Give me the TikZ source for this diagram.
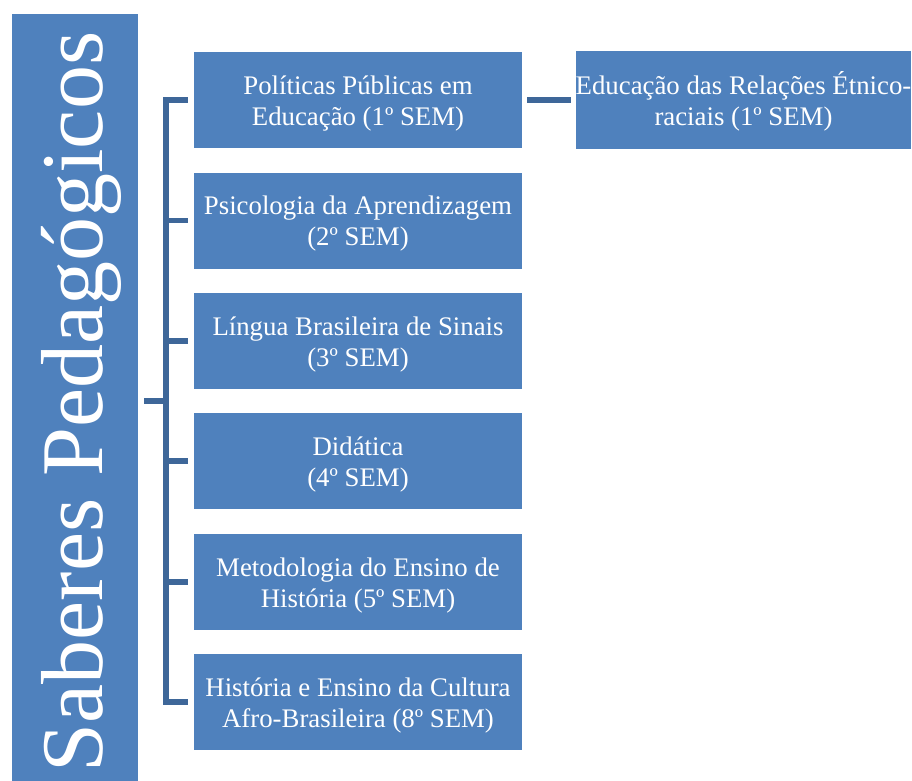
\documentclass[tikz,border=0pt]{standalone}
\usepackage{fontspec}
\setmainfont{Liberation Serif}
\definecolor{boxblue}{HTML}{4F81BD}
\definecolor{linkblue}{HTML}{3E6799}

\begin{document}
\begin{tikzpicture}[x=1pt,y=-1pt,
  disc/.style={fill=boxblue,text=white,minimum width=328pt,minimum height=96pt,
    inner sep=0pt,align=center,text height=56pt,text depth=6pt,
    font=\fontsize{26.8}{31}\selectfont},
  link/.style={draw=linkblue,line width=5.5pt,line join=miter}]
\useasboundingbox (0,0) rectangle (912,780);
\def\bx{358} \def\vx{166}

\node[fill=boxblue,minimum width=126pt,minimum height=774pt,inner sep=0pt] (title) at (75,401) {};
\node[rotate=90,anchor=base,text=white,inner sep=0pt,
  font=\fontsize{88}{100}\selectfont] (titletxt) at (102,402) {Saberes Pedagógicos};

\foreach \i/\y/\txt in {1/100/{Políticas Públicas em\\Educação (1º SEM)},
  2/220.5/{Psicologia da Aprendizagem\\(2º SEM)},
  3/341/{Língua Brasileira de Sinais\\(3º SEM)},
  4/461/{Didática\\(4º SEM)},
  5/582/{Metodologia do Ensino de\\História (5º SEM)},
  6/702/{História e Ensino da Cultura\\Afro-Brasileira (8º SEM)}}
\node[disc] (d\i) at (\bx,\y) {\txt};

\node[disc,minimum width=333pt,minimum height=98pt] (sub) at (743.5,100)
  {Educação das Relações Étnico-\\raciais (1º SEM)};

% bracket
\coordinate (spine) at (\vx,401);
\draw[link] ([xshift=-6pt]d1.west) -| ([xshift=-28pt]d6.west) -- ([xshift=-6pt]d6.west);
\foreach \i in {2,...,5}
\draw[link] ([xshift=-6pt]d\i.west) -- ([xshift=-28pt]d\i.west);
\draw[link] ([xshift=6pt]title.east) -- (spine);
\draw[link] ([xshift=5pt]d1.east) -- ([xshift=-5pt]sub.west);
\end{tikzpicture}
\end{document}
